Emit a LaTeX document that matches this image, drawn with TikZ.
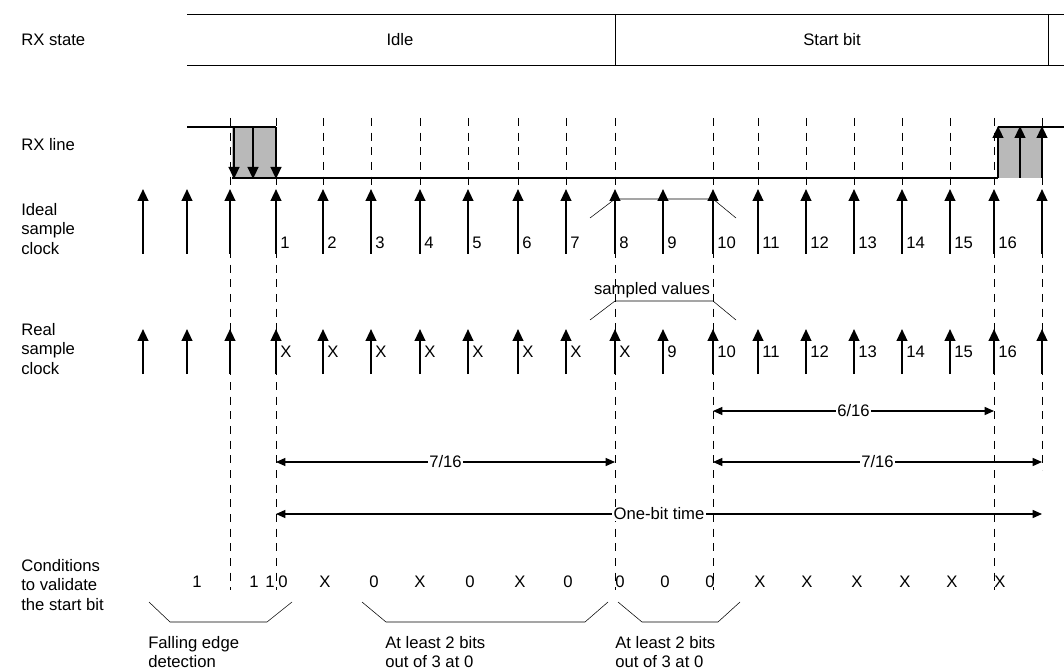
\documentclass[tikz,border=0pt]{standalone}
\usepackage{fontspec}
\setmainfont{Liberation Sans}
\usetikzlibrary{arrows.meta,positioning}
\tikzset{>={Triangle[length=9pt,width=8pt]},
    lbl/.style={font=\fontsize{12.5}{14.5}\selectfont, align=left, anchor=west, inner sep=0pt},
    txt/.style={font=\fontsize{12.5}{14.5}\selectfont, inner sep=0pt},
    clk/.style={->, line width=1.6pt},
    sig/.style={line width=1.4pt},
    grid/.style={dashed, thin, dash pattern=on 6pt off 5pt},
    dim/.style={<->, >={Triangle[length=7pt,width=6pt]}, line width=1pt},
    brk/.style={thin}}
\begin{document}
\begin{tikzpicture}[x=0.75pt, y=-0.75pt]
\useasboundingbox (0,0) rectangle (1064,670);
% labels on the left
\node[lbl] (lstate) at (21,40) {RX state};
\node[lbl] (lline) at (21,145) {RX line};
\node[lbl] (lideal) at (21,229) {Ideal\\sample\\clock};
\node[lbl] (lreal) at (21,349) {Real\\sample\\clock};
\node[lbl] (lcond) at (21,585) {Conditions\\to validate\\the start bit};
% RX state
\draw[thin] (187,14) -- (1064,14) (187,65) -- (1064,65)
    (615,14) -- (615,65) (1048,14) -- (1048,65);
\node[txt] (idle) at (400,40) {Idle};
\node[txt] (start) at (832,40) {Start bit};
% dashed guides
\foreach \x in {323,371,420,468,518,566,758,806,854,902,950}
    \draw[grid] (\x,118) -- (\x,190);
\foreach \x in {230,276,615,713,994}
    \draw[grid] (\x,118) -- (\x,590);
\draw[grid] (1042,118) -- (1042,470);
% RX line
\fill[gray!55] (232,127) rectangle (276,178);
\fill[gray!55] (998,127) rectangle (1042,178);
\draw[sig] (187,127) -- (276,127);
\draw[sig] (232,178) -- (998,178);
\draw[sig] (998,127) -- (1064,127);
\foreach \x in {234,253,276} \draw[clk] (\x,127) -- (\x,179);
\foreach \x in {998,1020,1042} \draw[clk] (\x,178) -- (\x,126);
% sample clocks
\foreach \x in {143,187,230,276,323,371,420,468,518,566,615,663,713,758,806,854,902,950,994,1042} {
    \draw[clk] (\x,254) -- (\x,189);
    \draw[clk] (\x,374) -- (\x,329);
}
\foreach \x/\n in {276/1,323/2,371/3,420/4,468/5,518/6,566/7,615/8,663/9,713/10,758/11,806/12,854/13,902/14,950/15,994/16}
    \node[txt, anchor=west] at (\x+4,243) {\n};
\foreach \x/\n in {276/X,323/X,371/X,420/X,468/X,518/X,566/X,615/X,663/9,713/10,758/11,806/12,854/13,902/14,950/15,994/16}
    \node[txt, anchor=west] at (\x+4,352) {\n};
% sampled values brackets
\draw[brk] (590,218) -- (615,199) -- (713,199) -- (736,218);
\node[txt] (sampled) at (652,290) {sampled values};
\draw[brk] (590,320) -- (615,301) -- (713,301) -- (736,320);
% timing arrows
\draw[dim] (713,411) -- node[txt, fill=white, inner sep=1pt] {6/16} (994,411);
\draw[dim] (276,462) -- node[txt, fill=white, inner sep=1pt] {7/16} (615,462);
\draw[dim] (713,462) -- node[txt, fill=white, inner sep=1pt] {7/16} (1042,462);
\draw[dim] (276,514) -- node[txt, fill=white, inner sep=1pt] {One-bit time} (1042,514);
% conditions
\foreach \x/\v in {197/1,254/1,270/1,283/0,325/X,374/0,420/X,470/0,520/X,568/0,620/0,665/0,710/0,760/X,807/X,857/X,905/X,952/X,1000/X}
    \node[txt] at (\x,582) {\v};
\draw[brk] (149,602) -- (170,622) -- (267,622) -- (292,602);
\draw[brk] (362,602) -- (386,622) -- (585,622) -- (608,602);
\draw[brk] (618,602) -- (642,622) -- (718,622) -- (740,602);
\node[lbl, anchor=north west] (falling) at (148,636) {Falling edge\\detection};
\node[lbl, anchor=north west] (least1) at (385,636) {At least 2 bits\\out of 3 at 0};
\node[lbl, anchor=north west] (least2) at (615,636) {At least 2 bits\\out of 3 at 0};
\end{tikzpicture}
\end{document}
